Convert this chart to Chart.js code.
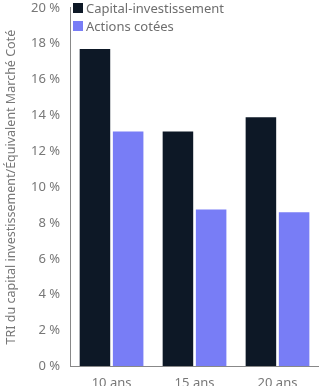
<!DOCTYPE html>
<html><head><meta charset="utf-8">
<script src="https://cdn.jsdelivr.net/npm/chart.js@4"></script>
<style>
html,body{margin:0;padding:0;background:#fff;}
#wrap{position:relative;width:320px;height:386px;overflow:hidden;}
#c{display:block;margin-top:-10px;}
#legend{position:absolute;left:73px;top:-1px;font-family:"Noto Sans";font-size:13px;color:#6e6e6e;}
.item{display:flex;align-items:center;height:18px;}
.sw{width:10px;height:10px;margin-right:3px;}
</style></head>
<body>
<div id="wrap"><canvas id="c" width="320" height="396"></canvas>
<div id="legend"></div></div>
<script>
const categories = ["10 ans", "15 ans", "20 ans"];
const seriesNames = ["Capital-investissement", "Actions cotées"];
const privateEquity = [17.7, 13.1, 13.9];
const listedEquity = [13.1, 8.75, 8.6];
const colors = ["#0d1826", "#787df6"];
const yTitle = "TRI du capital investissement/Équivalent Marché Coté";

const leg = document.getElementById('legend');
seriesNames.forEach((n,i)=>{
  const d=document.createElement('div');d.className='item';
  d.innerHTML='<span class="sw" style="background:'+colors[i]+'"></span><span>'+n+'</span>';
  leg.appendChild(d);
});

Chart.defaults.font.family = "Noto Sans";
Chart.defaults.font.size = 13;
Chart.defaults.color = "#777";
new Chart(document.getElementById('c'), {
  type: 'bar',
  data: {
    labels: categories,
    datasets: [
      {label: seriesNames[0], data: privateEquity, backgroundColor: colors[0]},
      {label: seriesNames[1], data: listedEquity, backgroundColor: colors[1]}
    ]
  },
  options: {
    responsive: false,
    animation: false,
    devicePixelRatio: 1,
    layout: {padding: {top: -2, right: 1, left: 4, bottom: -14}},
    datasets: {bar: {categoryPercentage: 0.8, barPercentage: 0.92}},
    plugins: {legend: {display: false}, tooltip: {enabled: false}},
    scales: {
      x: {
        grid: {display: false, drawTicks: false},
        border: {display: false},
        ticks: {padding: 9, color: "#777"}
      },
      y: {
        min: 0, max: 20,
        grid: {display: false, drawTicks: false},
        border: {display: true, color: "#888", width: 1},
        ticks: {stepSize: 2, padding: 10, color: "#777", callback: v => v + " %"},
        title: {display: true, text: yTitle, color: "#777", font: {size: 12.5}, padding: {top: 0, bottom: 2}}
      }
    }
  },
  plugins: [{
    id: 'xline',
    afterDraw(chart) {
      const {ctx, chartArea: a} = chart;
      ctx.save(); ctx.strokeStyle = "#888"; ctx.lineWidth = 1;
      ctx.beginPath(); ctx.moveTo(a.left, Math.round(a.bottom) + 0.5); ctx.lineTo(a.right, Math.round(a.bottom) + 0.5); ctx.stroke();
      ctx.restore();
    }
  }]
});
</script>
</body></html>
